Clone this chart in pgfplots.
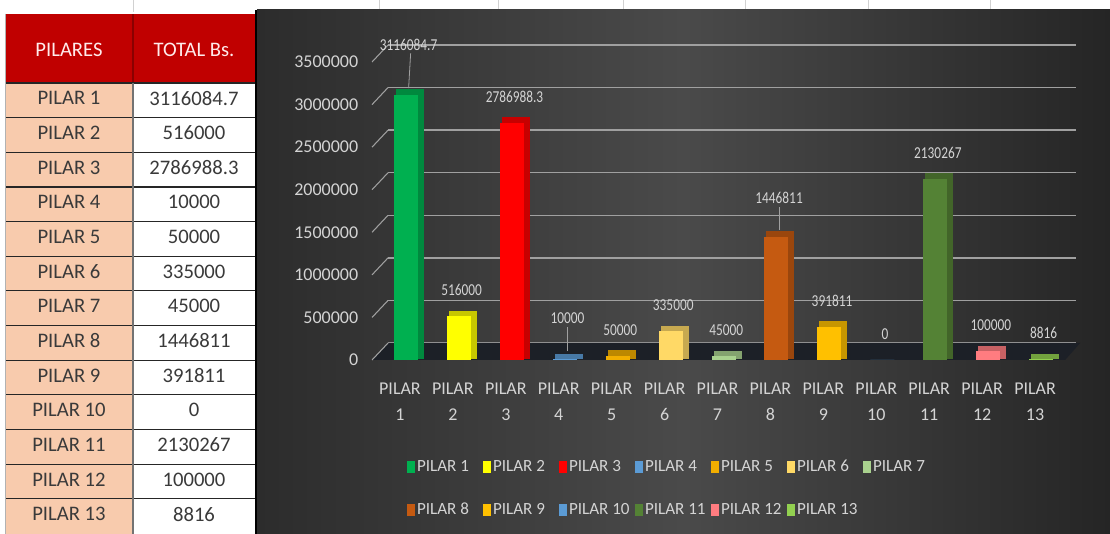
\documentclass[border=0pt]{standalone}
\usepackage{pgfplots}
\pgfplotsset{compat=1.18}
\usepackage{fontspec}
\setmainfont{Carlito}
\newfontfamily\narrowfont[FakeStretch=0.8]{Carlito}

\definecolor{hdr}{HTML}{C00000}
\definecolor{hdrline}{HTML}{8A0000}
\definecolor{peach}{HTML}{F8CBAD}
\definecolor{txt}{HTML}{3A3A3A}
\definecolor{bgL}{HTML}{2C2C2C}
\definecolor{bgM}{HTML}{4A4A4A}
\definecolor{bgR}{HTML}{252525}
\definecolor{gridc}{HTML}{A0A0A0}
\definecolor{lbl}{HTML}{D4D4D4}
\definecolor{floorc}{HTML}{1C2027}
\definecolor{c1}{HTML}{00B050}
\definecolor{c2}{HTML}{FFFF00}
\definecolor{c3}{HTML}{FF0000}
\definecolor{c4}{HTML}{5B9BD5}
\definecolor{c5}{HTML}{F2AE00}
\definecolor{c6}{HTML}{FFD966}
\definecolor{c7}{HTML}{A9D18E}
\definecolor{c8}{HTML}{C55A11}
\definecolor{c9}{HTML}{FFC000}
\definecolor{c10}{HTML}{5B9BD5}
\definecolor{c11}{HTML}{548235}
\definecolor{c12}{HTML}{FF7C80}
\definecolor{c13}{HTML}{92D050}

\pgfplotsset{
  depth/.style={ybar, bar width=18pt, bar shift=0pt, fill=#1!78!black, draw=#1!78!black, line width=3pt, xshift=3pt, yshift=2.5pt, forget plot},
  front/.style={ybar, bar width=18pt, bar shift=0pt, fill=#1, draw=none,
    legend image code/.code={\fill[#1] (0pt,-4.5pt) rectangle (6pt,4.5pt);}},
}

\begin{document}
\begin{tikzpicture}
\begin{scope}[x=0.75pt,y=0.75pt]
\useasboundingbox (0,0) rectangle (1110,534);
\fill[white] (0,0) rectangle (1110,534);
\foreach \x in {133,379,498,623,745,868,990}
  \draw[black!18, line width=0.6pt] (\x,534) -- (\x,522);
\shade[left color=bgL, right color=bgR, middle color=bgM] (257,0) rectangle (1110,524);
% table
\fill[hdr] (5,520) rectangle (255,451);
\draw[hdrline, line width=0.8pt] (133,520) -- (133,451);
\fill[peach] (5,451) rectangle (133,0);
\fill[white] (133,451) rectangle (255,0);
\foreach \i in {1,...,12}
  \draw[black!85, line width=0.9pt] (5,{451-34.65*\i}) -- (255,{451-34.65*\i});
\draw[black!85, line width=0.9pt] (5,451) -- (255,451);
\draw[black!55, line width=0.8pt] (133,451) -- (133,0);
\draw[black!30, line width=0.6pt] (5,520) -- (5,0);
\draw[black, line width=1.4pt] (256,524) -- (256,0);
\node[font=\fontsize{15.5}{18}\selectfont, text=white!92!red] at (69,484) {PILARES};
\node[font=\fontsize{15.5}{18}\selectfont, text=white!92!red] at (194,484) {TOTAL Bs.};
\foreach \n/\v [count=\i] in {1/3116084.7,2/516000,3/2786988.3,4/10000,5/50000,6/335000,7/45000,8/1446811,9/391811,10/0,11/2130267,12/100000,13/8816}{
  \node[font=\fontsize{15.5}{18}\selectfont, text=txt] at (69,{451-34.65*(\i-0.5)+2}) {PILAR \n};
  \node[font=\fontsize{15.5}{18}\selectfont, text=txt] at (194,{451-34.65*(\i-0.5)+2}) {\v};
}
\end{scope}

\begin{axis}[
  at={(284.625pt,130.5pt)}, anchor=south west,
  scale only axis, width=516pt, height=223.5pt,
  xmin=0.5, xmax=13.5, ymin=0, ymax=3500000,
  clip=false,
  axis line style={draw=none}, tick style={draw=none},
  /pgf/number format/assume math mode=true,
  ytick={0,500000,1000000,1500000,2000000,2500000,3000000,3500000},
  scaled y ticks=false,
  yticklabel style={/pgf/number format/fixed, /pgf/number format/1000 sep={},
    font=\fontsize{13.5}{16}\selectfont, text=lbl, xshift=-12.5pt},
  xtick={1,...,13},
  xticklabels={PILAR\\1,PILAR\\2,PILAR\\3,PILAR\\4,PILAR\\5,PILAR\\6,PILAR\\7,PILAR\\8,PILAR\\9,PILAR\\10,PILAR\\11,PILAR\\12,PILAR\\13},
  xticklabel style={align=center, font=\fontsize{13.5}{19.5}\selectfont, text=lbl, xshift=-4.5pt, yshift=-14pt},
  ymajorgrids,
  major grid style={draw=gridc, line width=1pt, xshift=6.4pt, yshift=12.75pt},
  every node near coord/.append style={font=\narrowfont\fontsize{12.5}{14}\selectfont, text=lbl, anchor=south, xshift=2pt, yshift=11.8pt},
  legend columns=7,
  legend style={at={(0.04,-0.329)}, anchor=north west, draw=none, fill=none,
    font=\fontsize{12.8}{15}\selectfont, text=lbl, inner sep=0pt, outer sep=0pt,
    row sep=19pt, column sep=0pt, nodes={inner sep=1.5pt}},
]
% floor
\fill[floorc] ([xshift=-5.6pt]axis cs:0.5,0) -- ([xshift=-1.8pt]axis cs:13.5,0)
  -- ([xshift=9.5pt,yshift=12.75pt]axis cs:13.5,0) -- ([xshift=6.4pt,yshift=12.75pt]axis cs:0.5,0) -- cycle;
\pgfplotsinvokeforeach{0,500000,1000000,1500000,2000000,2500000,3000000,3500000}{
  \draw[gridc, line width=0.8pt] ([xshift=-5.6pt]axis cs:0.5,#1) -- ([xshift=6.4pt,yshift=12.75pt]axis cs:0.5,#1);
}

\addplot[depth=c1] coordinates {(1,3116084.7)};
\addplot[front=c1, nodes near coords={3116084.7}, every node near coord/.append style={yshift=17.7pt}] coordinates {(1,3116084.7)};
\addlegendentry{\makebox[48pt][l]{PILAR 1}}
\addplot[depth=c2] coordinates {(2,516000)};
\addplot[front=c2, nodes near coords={516000}] coordinates {(2,516000)};
\addlegendentry{\makebox[48pt][l]{PILAR 2}}
\addplot[depth=c3] coordinates {(3,2786988.3)};
\addplot[front=c3, nodes near coords={2786988.3}] coordinates {(3,2786988.3)};
\addlegendentry{\makebox[48pt][l]{PILAR 3}}
\addplot[depth=c4] coordinates {(4,10000)};
\addplot[front=c4, nodes near coords={10000}, every node near coord/.append style={yshift=11.2pt}] coordinates {(4,10000)};
\addlegendentry{\makebox[48pt][l]{PILAR 4}}
\addplot[depth=c5] coordinates {(5,50000)};
\addplot[front=c5, nodes near coords={50000}] coordinates {(5,50000)};
\addlegendentry{\makebox[48pt][l]{PILAR 5}}
\addplot[depth=c6] coordinates {(6,335000)};
\addplot[front=c6, nodes near coords={335000}] coordinates {(6,335000)};
\addlegendentry{\makebox[48pt][l]{PILAR 6}}
\addplot[depth=c7] coordinates {(7,45000)};
\addplot[front=c7, nodes near coords={45000}] coordinates {(7,45000)};
\addlegendentry{\makebox[48pt][l]{PILAR 7}}
\addplot[depth=c8] coordinates {(8,1446811)};
\addplot[front=c8, nodes near coords={1446811}, every node near coord/.append style={yshift=9.5pt}] coordinates {(8,1446811)};
\addlegendentry{\makebox[48pt][l]{PILAR 8}}
\addplot[depth=c9] coordinates {(9,391811)};
\addplot[front=c9, nodes near coords={391811}] coordinates {(9,391811)};
\addlegendentry{\makebox[48pt][l]{PILAR 9}}
\addplot[front=c10, nodes near coords={0}] coordinates {(10,0)};
\addlegendentry{\makebox[48pt][l]{PILAR 10}}
\addplot[depth=c11] coordinates {(11,2130267)};
\addplot[front=c11, nodes near coords={2130267}] coordinates {(11,2130267)};
\addlegendentry{\makebox[48pt][l]{PILAR 11}}
\addplot[depth=c12] coordinates {(12,100000)};
\addplot[front=c12, nodes near coords={100000}] coordinates {(12,100000)};
\addlegendentry{\makebox[48pt][l]{PILAR 12}}
\addplot[depth=c13] coordinates {(13,8816)};
\addplot[front=c13, nodes near coords={8816}] coordinates {(13,8816)};
\addlegendentry{\makebox[48pt][l]{PILAR 13}}

% leader lines
\draw[gridc, line width=0.6pt] ([xshift=2pt,yshift=5pt]axis cs:1,3116084.7) -- ([xshift=3.5pt,yshift=31pt]axis cs:1,3116084.7);
\draw[gridc, line width=0.6pt] ([xshift=2pt,yshift=6pt]axis cs:4,10000) -- ([xshift=2pt,yshift=24pt]axis cs:4,10000);
\draw[gridc, line width=0.6pt] ([xshift=2pt,yshift=5pt]axis cs:8,1446811) -- ([xshift=2pt,yshift=22pt]axis cs:8,1446811);
\end{axis}
\end{tikzpicture}
\end{document}
